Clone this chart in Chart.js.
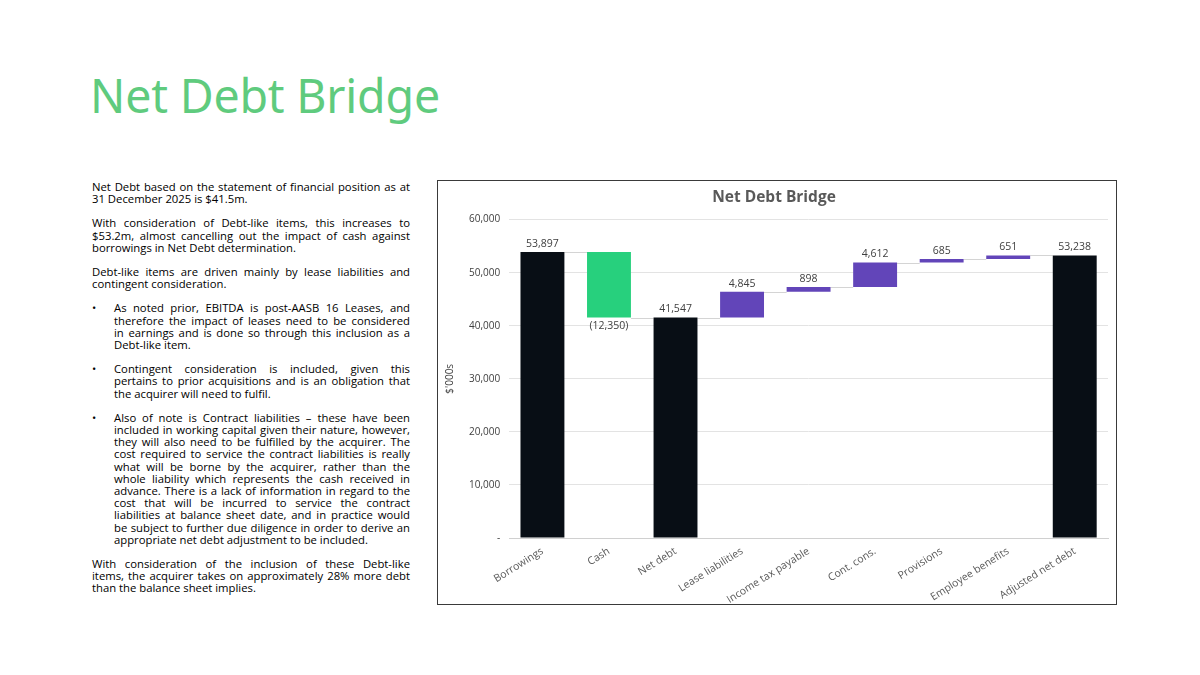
<!DOCTYPE html>
<html lang="en">
<head>
<meta charset="UTF-8">
<title>Net Debt Bridge</title>
<style>
    html, body { margin: 0; padding: 0; background: #fff; }
    body { width: 1200px; height: 675px; position: relative; overflow: hidden; font-family: "Open Sans", sans-serif; }
    h1 {
        position: absolute; left: 90px; top: 63px; margin: 0;
        font-family: "Noto Sans", sans-serif; font-weight: 400; font-size: 46.5px;
        color: #5fcb7e; letter-spacing: -0.2px;
    }
    .text {
        position: absolute; left: 92px; top: 181px; width: 318px;
        font-size: 11.3px; line-height: 12.2px; color: #000;
    }
    .text p { margin: 0 0 12px 0; }
    .text span { display: block; text-align: justify; text-align-last: justify; white-space: nowrap; }
    .text span.last { text-align-last: left; }
    .bul { position: relative; padding-left: 22px; }
    .bul::before { content: "\2022"; position: absolute; left: 0; top: 0; }
    .box {
        position: absolute; left: 437px; top: 180px; width: 678px; height: 423px;
        border: 1px solid #3a3a3a;
    }
</style>
</head>
<body>
<h1>Net Debt Bridge</h1>

<div class="text">
    <p><span>Net Debt based on the statement of financial position as at</span><span class="last">31 December 2025 is $41.5m.</span></p>
    <p><span>With consideration of Debt-like items, this increases to</span><span>$53.2m, almost cancelling out the impact of cash against</span><span class="last">borrowings in Net Debt determination.</span></p>
    <p><span>Debt-like items are driven mainly by lease liabilities and</span><span class="last">contingent consideration.</span></p>
    <p class="bul"><span>As noted prior, EBITDA is post-AASB 16 Leases, and</span><span>therefore the impact of leases need to be considered</span><span>in earnings and is done so through this inclusion as a</span><span class="last">Debt-like item.</span></p>
    <p class="bul"><span>Contingent consideration is included, given this</span><span>pertains to prior acquisitions and is an obligation that</span><span class="last">the acquirer will need to fulfil.</span></p>
    <p class="bul"><span>Also of note is Contract liabilities &ndash; these have been</span><span>included in working capital given their nature, however,</span><span>they will also need to be fulfilled by the acquirer. The</span><span>cost required to service the contract liabilities is really</span><span>what will be borne by the acquirer, rather than the</span><span>whole liability which represents the cash received in</span><span>advance. There is a lack of information in regard to the</span><span>cost that will be incurred to service the contract</span><span>liabilities at balance sheet date, and in practice would</span><span>be subject to further due diligence in order to derive an</span><span class="last">appropriate net debt adjustment to be included.</span></p>
    <p><span>With consideration of the inclusion of these Debt-like</span><span>items, the acquirer takes on approximately 28% more debt</span><span class="last">than the balance sheet implies.</span></p>
</div>

<div class="box"><canvas id="bridgeChart"></canvas></div>

<script src="https://cdn.jsdelivr.net/npm/chart.js"></script>
<script>
    // bridge data ($'000s)
    const categories = ['Borrowings', 'Cash', 'Net debt', 'Lease liabilities', 'Income tax payable',
        'Cont. cons.', 'Provisions', 'Employee benefits', 'Adjusted net debt'];
    const values = [53897, -12350, 41547, 4845, 898, 4612, 685, 651, 53238];
    const isTotal = [true, false, true, false, false, false, false, false, true];
    const yTicks = [0, 10000, 20000, 30000, 40000, 50000, 60000];

    // floating ranges for the waterfall
    let level = 0;
    const ranges = values.map((v, i) => {
        if (isTotal[i]) { level = v; return [0, v]; }
        const r = [level, level + v];
        level += v;
        return r;
    });
    const colours = values.map((v, i) => isTotal[i] ? '#080e15' : (v < 0 ? '#27d07d' : '#6245b9'));

    function fmt(v) {
        const s = Math.abs(v).toLocaleString('en-US');
        return v < 0 ? '(' + s + ')' : s;
    }

    // thin connector lines between bar ends
    const connectors = {
        id: 'connectors',
        beforeDatasetsDraw(chart) {
            const meta = chart.getDatasetMeta(0);
            const y = chart.scales.y;
            const ctx = chart.ctx;
            ctx.save();
            ctx.strokeStyle = '#d4d4d4';
            ctx.lineWidth = 1;
            for (let i = 0; i < meta.data.length - 1; i++) {
                const a = meta.data[i], b = meta.data[i + 1];
                const py = Math.round(y.getPixelForValue(ranges[i][1])) + 0.5;
                ctx.beginPath();
                ctx.moveTo(a.x + a.width / 2, py);
                ctx.lineTo(b.x - b.width / 2, py);
                ctx.stroke();
            }
            ctx.restore();
        }
    };

    // value labels above (or below for negatives)
    const valueLabels = {
        id: 'valueLabels',
        afterDatasetsDraw(chart) {
            const meta = chart.getDatasetMeta(0);
            const y = chart.scales.y;
            const ctx = chart.ctx;
            ctx.save();
            ctx.font = '10.5px "Open Sans", sans-serif';
            ctx.fillStyle = '#404040';
            ctx.textAlign = 'center';
            meta.data.forEach((el, i) => {
                const top = Math.max(ranges[i][0], ranges[i][1]);
                const bot = Math.min(ranges[i][0], ranges[i][1]);
                if (values[i] < 0) {
                    ctx.textBaseline = 'top';
                    ctx.fillText(fmt(values[i]), el.x, y.getPixelForValue(bot) + 3);
                } else {
                    ctx.textBaseline = 'bottom';
                    ctx.fillText(fmt(values[i]), el.x, y.getPixelForValue(top) - 3);
                }
            });
            ctx.restore();
        }
    };

    const ctx = document.getElementById('bridgeChart').getContext('2d');
    new Chart(ctx, {
        type: 'bar',
        data: {
            labels: categories,
            datasets: [{
                data: ranges,
                backgroundColor: colours,
                borderWidth: 0,
                categoryPercentage: 1,
                barPercentage: 0.66
            }]
        },
        options: {
            responsive: true,
            maintainAspectRatio: false,
            animation: false,
            layout: { padding: { left: 2, right: 8, top: 4, bottom: 0 } },
            scales: {
                x: {
                    grid: { display: false, drawTicks: false },
                    border: { color: '#d0d0d0' },
                    afterFit(scale) { scale.height = 66; },
                    ticks: {
                        color: '#595959', font: { family: 'Open Sans', size: 10.5 },
                        minRotation: 32, maxRotation: 32, padding: 7
                    }
                },
                y: {
                    min: 0, max: 60000,
                    afterBuildTicks(axis) { axis.ticks = yTicks.map(v => ({ value: v })); },
                    grid: { color: '#e3e3e3', drawTicks: false, lineWidth: 1 },
                    border: { display: false },
                    ticks: {
                        color: '#404040', font: { family: 'Open Sans', size: 10 }, padding: 9,
                        callback: v => v === 0 ? '-' : v.toLocaleString('en-US')
                    },
                    title: {
                        display: true, text: "$'000s", color: '#404040',
                        font: { family: 'Open Sans', size: 10 }, padding: { bottom: 4 }
                    }
                }
            },
            plugins: {
                legend: { display: false },
                tooltip: { enabled: false },
                title: {
                    display: true, text: 'Net Debt Bridge', color: '#595959',
                    font: { family: 'Open Sans', size: 15.5, weight: 'bold' },
                    padding: { top: 3, bottom: 13 }
                }
            }
        },
        plugins: [connectors, valueLabels]
    });
</script>
</body>
</html>
